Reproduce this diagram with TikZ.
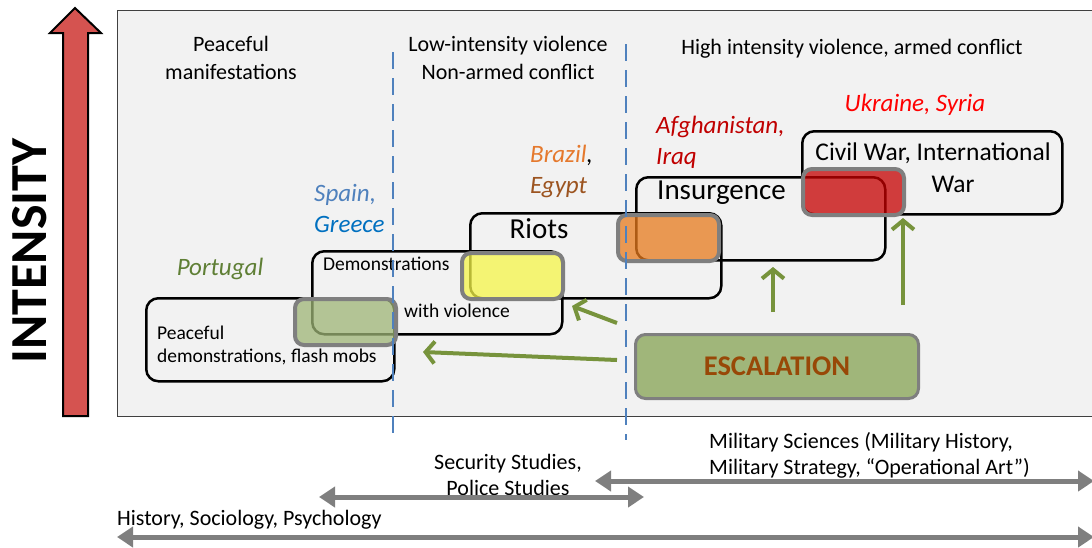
\documentclass[tikz,border=0pt]{standalone}
\usepackage{fontspec}
\setmainfont{Carlito}
\usetikzlibrary{arrows.meta,positioning}

\definecolor{panelgray}{HTML}{F2F2F2}
\definecolor{intensred}{HTML}{D55350}
\definecolor{guideblue}{HTML}{4F81BD}
\definecolor{pushgreen}{HTML}{77933C}
\definecolor{escfill}{HTML}{A0B67A}
\definecolor{escbrown}{HTML}{984807}
\definecolor{bargray}{HTML}{7F7F7F}
% country colours
\definecolor{ptgreen}{HTML}{5F7F35}
\definecolor{spblue}{HTML}{4F81BD}
\definecolor{grblue}{HTML}{0070C0}
\definecolor{brorange}{HTML}{E5792D}
\definecolor{egbrown}{HTML}{9C5420}
\definecolor{afred}{HTML}{C00000}
\definecolor{ukred}{HTML}{FF0000}
% overlap patches
\definecolor{pgreen}{HTML}{9EB576}
\definecolor{pyellow}{HTML}{F6F649}
\definecolor{porange}{HTML}{E77A1D}
\definecolor{pred}{HTML}{C50000}

\newcommand{\fsz}[2]{\fontsize{#1}{#2}\selectfont}

\begin{document}
\begin{tikzpicture}[x=1pt, y=-1pt,
    every node/.style={inner sep=0pt, font=\fsz{22}{28}},
    header/.style={align=center},
    country/.style={font=\fsz{25}{31}\itshape, align=left},
    stagebox/.style={draw=black, line width=2.5, rounded corners=12, anchor=north west, minimum height=83},
    stagetext/.style={font=\fsz{19.5}{23}, align=left, anchor=west},
    stagebig/.style={font=\fsz{29}{32}},
    overlap/.style={draw=bargray, line width=4, rounded corners=9, anchor=north west,
                    minimum width=101, minimum height=46, fill opacity=0.75},
    guide/.style={guideblue, line width=2, dash pattern=on 17pt off 9pt},
    push/.style={pushgreen, line width=4, -{Straight Barb[length=9pt,width=22pt]}},
    span/.style={bargray, line width=5, {Triangle[length=16pt,width=20pt]}-{Triangle[length=16pt,width=20pt]}},
    field/.style={font=\fsz{22}{26}}
]
\useasboundingbox (0,0) rectangle (1092,547);

% panel and intensity axis
\draw[fill=panelgray, draw=black!75, line width=1] (117,10) rectangle (1100,416);
\draw[fill=intensred, draw=black, line width=2]
  (63,416) -- (63,33) -- (50,33) -- (75,8) -- (101,33) -- (88,33) -- (88,416) -- cycle;
\node[rotate=90, font=\fsz{52}{60}\bfseries] (intensity) at (30,251) {INTENSITY};

% column headers
\node[header] (hpeace) at (231,58) {Peaceful\\manifestations};
\node[header] (hlow) at (508,57.5) {Low-intensity violence\\Non-armed conflict};
\node[header] (hhigh) at (852,49) {High intensity violence, armed conflict};

% stages
\node[stagebox, minimum width=248] (peace) at (145,297) {};
\node[stagebox, minimum width=250] (demo) at (311,250) {};
\node[stagebox, minimum width=251, minimum height=85] (riots) at (469,212) {};
\node[stagebox, minimum width=249] (insurg) at (635,176) {};
\node[stagebox, minimum width=260] (war) at (801,130) {};

\node[stagetext] (tpeace) at (157,345) {Peaceful\\demonstrations, flash mobs};
\node[stagetext] (tdemo) at (323,264) {Demonstrations};
\node[stagetext] (tviol) at (404,311) {with violence};
\node[stagebig] (triots) at (539,229) {Riots};
\node[stagebig, anchor=west] (tinsurg) at (657,193) {Insurgence};
\node[font=\fsz{25.5}{32}, align=center] (twar) at (933,168) {Civil War, International\\\hspace*{40pt}War};

% overlaps between neighbouring stages
\foreach \px/\py/\col [count=\i] in {293/297/pgreen, 460/251/pyellow, 616/213/porange, 801/167/pred}
  \node[overlap, fill=\col] (ov\i) at (\px,\py) {};

% countries
\node[country, text=ptgreen] (portugal) at (220,269) {Portugal};
\node[country, anchor=west] (spain) at (314,208) {\textcolor{spblue}{Spain,}\\\textcolor{grblue}{Greece}};
\node[country, anchor=west] (brazil) at (530,171) {\textcolor{brorange}{Brazil},\\\textcolor{egbrown}{Egypt}};
\node[country, anchor=west, text=afred] (afghan) at (656,142) {Afghanistan,\\Iraq};
\node[country, text=ukred] (ukraine) at (915,105) {Ukraine, Syria};

% escalation
\node[draw=bargray, fill=escfill, line width=3, rounded corners=10, anchor=north west,
      minimum width=283, minimum height=64] (esc) at (634,333) {};
\node[font=\fsz{28.5}{32}\bfseries, text=escbrown] (tesc) at (esc.center) {ESCALATION};

\coordinate (e1) at (617,323);
\coordinate (e2) at (617,360);
\coordinate (e3) at (773,312);
\coordinate (e4) at (903,305);
\coordinate (h1) at (572,306);
\coordinate (h2) at (423,352);
\coordinate (h3) at (773,267);
\coordinate (h4) at (903,218);
\draw[push] (e1) -- (h1);
\draw[push] (e2) -- (h2);
\draw[push] (e3) -- (h3);
\draw[push] (e4) -- (h4);

% column boundaries
\draw[guide] (393,52) -- (393,440);
\draw[guide] (626,44) -- (626,440);

% disciplines
\node[field, align=left, anchor=west] (milsci) at (709,455)
  {Military Sciences (Military History,\\Military Strategy, “Operational Art”)};
\node[field, align=center] (secstud) at (508,475) {Security Studies,\\Police Studies};
\node[field, anchor=west] (history) at (117,520) {History, Sociology, Psychology};

\coordinate (m1) at (595,481);
\coordinate (m2) at (1094,481);
\coordinate (s1) at (319,497);
\coordinate (s2) at (644,497);
\coordinate (g1) at (117,537);
\coordinate (g2) at (1094,537);
\draw[span] (m1) -- (m2);
\draw[span] (s1) -- (s2);
\draw[span] (g1) -- (g2);

\end{tikzpicture}
\end{document}
